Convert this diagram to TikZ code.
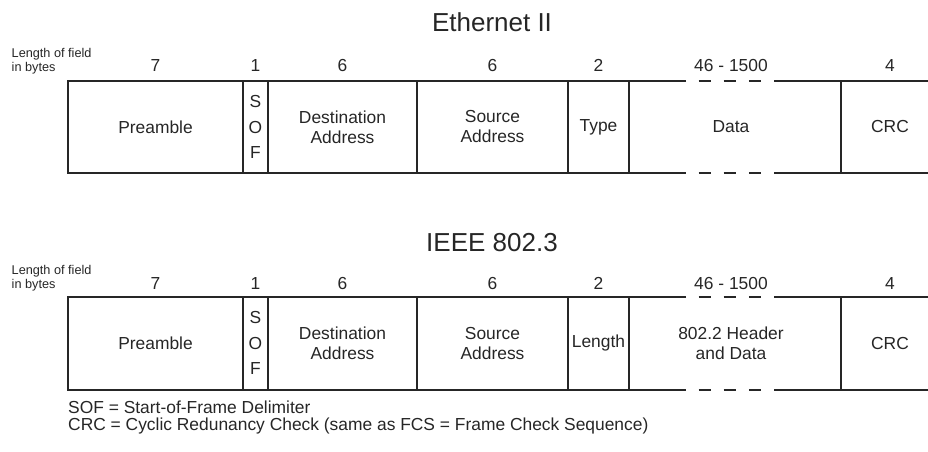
\documentclass[tikz,border=0pt]{standalone}
\usepackage{fontspec}
\setmainfont{Liberation Sans}
\definecolor{ink}{HTML}{262626}
\tikzset{
  outer/.style={line width=2pt, draw=ink},
  divider/.style={line width=1.4pt, draw=ink},
  gapline/.style={line width=2pt, draw=ink, dash pattern=on 12.57pt off 12.57pt, dash phase=12.57pt},
  lbl/.style={font=\fontsize{17.4}{20}\selectfont, text=ink, inner sep=0pt, align=center},
  sofl/.style={font=\fontsize{17.4}{25.5}\selectfont, text=ink, inner sep=0pt, align=center},
  num/.style={font=\fontsize{17.4}{20}\selectfont, text=ink, inner sep=0pt, anchor=base},
  head/.style={font=\fontsize{26}{30}\selectfont, text=ink, inner sep=0pt, anchor=base},
  small/.style={font=\fontsize{12.7}{14}\selectfont, text=ink, inner sep=0pt, align=left, anchor=north west},
  note/.style={font=\fontsize{17.4}{20}\selectfont, text=ink, inner sep=0pt, anchor=base west},
}
% One frame layout: #1 name prefix, #2 top edge, #3 bottom edge,
% #4 baseline of the byte counts, #5 length/type label, #6 data label
\newcommand\ethframe[6]{%
  \pgfmathsetmacro\midy{(#2+#3)/2}
  % outline, open on the right, with a broken stretch over the data field
  \draw[outer] (686,#2) -- (68,#2) -- (68,#3) -- (686,#3);
  \draw[outer] (774,#2) -- (928,#2);
  \draw[outer] (774,#3) -- (928,#3);
  \draw[gapline] (686,#2) -- (774,#2);
  \draw[gapline] (686,#3) -- (774,#3);
  \foreach \x in {243,268,417,568,629,841}
    \draw[divider] (\x,#2) -- (\x,#3);
  % field names
  \node[lbl] (#1pre) at (155.5,\midy) {Preamble};
  \node[sofl] (#1sof) at (255.5,\midy) {S\\O\\F};
  \node[lbl] (#1dst) at (342.5,\midy) {Destination\\Address};
  \node[lbl] (#1src) at (492.5,\midy) {Source\\Address};
  \node[lbl] (#1typ) at (598.5,\midy) {#5};
  \node[lbl] (#1dat) at (731,\midy) {#6};
  \node[lbl] (#1crc) at (890,\midy) {CRC};
  % byte counts
  \node[num] (#1n1) at (155.5,#4) {7};
  \node[num] (#1n2) at (255.5,#4) {1};
  \node[num] (#1n3) at (342.5,#4) {6};
  \node[num] (#1n4) at (492.5,#4) {6};
  \node[num] (#1n5) at (598.5,#4) {2};
  \node[num] (#1n6) at (731,#4) {46 - 1500};
  \node[num] (#1n7) at (890,#4) {4};
}
\begin{document}
\begin{tikzpicture}[x=1pt, y=-1pt]
  \useasboundingbox (0,0) rectangle (928,451);
  % Ethernet II
  \node[head] (titleA) at (492,31.7) {Ethernet II};
  \node[small] (lenA) at (11.5,48.5) {Length of field\\in bytes};
  \ethframe{a}{80.7}{173.3}{71}{Type}{Data}
  % IEEE 802.3
  \node[head] (titleB) at (492,251.7) {IEEE 802.3};
  \node[small] (lenB) at (11.5,265.5) {Length of field\\in bytes};
  \ethframe{b}{296.7}{390}{289}{Length}{802.2 Header\\and Data}
  % abbreviations
  \node[note] (noteA) at (68,413.5) {SOF = Start-of-Frame Delimiter};
  \node[note] (noteB) at (68,430.5) {CRC = Cyclic Redunancy Check (same as FCS = Frame Check Sequence)};
\end{tikzpicture}
\end{document}
